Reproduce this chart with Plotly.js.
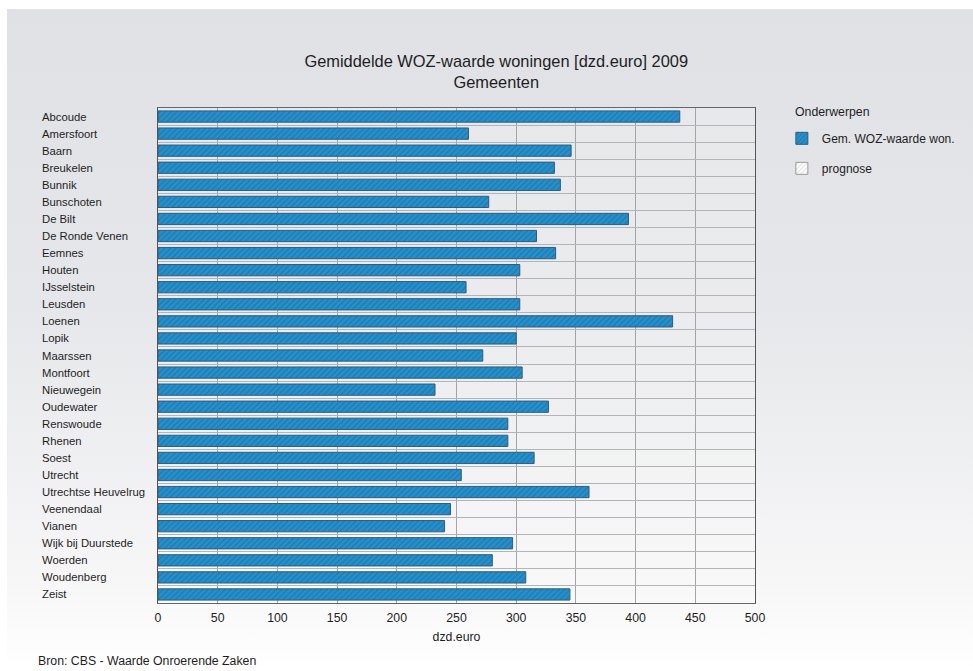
<!DOCTYPE html>
<html>
<head>
<meta charset="utf-8">
<script src="https://cdn.plot.ly/plotly-3.0.1.min.js"></script>
<style>
  html, body { margin: 0; padding: 0; background: #ffffff; }
  #bg { position: absolute; left: 7px; top: 9px; width: 966px; height: 662px;
        background: linear-gradient(to bottom, #e0e1e5 0%, #e6e7ea 45%, #f6f6f7 85%, #ffffff 100%); }
  #chart { position: absolute; left: 0; top: 0; width: 973px; height: 671px; }
</style>
</head>
<body>
<div id="bg"></div>
<div id="chart"></div>
<script>
const categories = ["Abcoude","Amersfoort","Baarn","Breukelen","Bunnik","Bunschoten","De Bilt","De Ronde Venen","Eemnes","Houten","IJsselstein","Leusden","Loenen","Lopik","Maarssen","Montfoort","Nieuwegein","Oudewater","Renswoude","Rhenen","Soest","Utrecht","Utrechtse Heuvelrug","Veenendaal","Vianen","Wijk bij Duurstede","Woerden","Woudenberg","Zeist"];
const wozValues = [437,260,346,332,337,277,394,317,333,303,258,303,431,300,272,305,232,327,293,293,315,254,361,245,240,297,280,308,345];
const prognoseValues = categories.map(() => null);
const xTicks = [0,50,100,150,200,250,300,350,400,450,500];

const FONT = '"Liberation Sans", Arial, sans-serif';
const TXT = '#1e1e1e';

const traces = [
  {
    type: 'bar', orientation: 'h', name: 'Gem. WOZ-waarde won.',
    y: categories, x: wozValues, legendgroup: 'a',
    marker: { color: '#2192cf', line: { color: '#2f5c7c', width: 1 },
              pattern: { shape: '/', fgcolor: '#2277aa', bgcolor: '#2192cf', size: 4, solidity: 0.3 } },
    hoverinfo: 'x+y'
  },
  {
    type: 'bar', orientation: 'h', name: 'prognose',
    y: categories, x: prognoseValues, legendgroup: 'b',
    marker: { color: '#ffffff', line: { color: '#9a9a9a', width: 1 },
              pattern: { shape: '/', fgcolor: '#dcdcdc', bgcolor: '#ffffff', size: 4, solidity: 0.3 } }
  }
];

const annotations = categories.map(c => ({
  xref: 'paper', yref: 'y', x: -0.197, y: c, xanchor: 'left', yanchor: 'middle',
  text: c, showarrow: false, font: { family: FONT, size: 11.3, color: TXT }
}));
annotations.push({
  xref: 'paper', yref: 'paper', x: -0.204, y: -0.118, xanchor: 'left', yanchor: 'middle',
  text: 'Bron: CBS - Waarde Onroerende Zaken', showarrow: false,
  font: { family: FONT, size: 12.3, color: TXT }
});
annotations.push({
  xref: 'paper', yref: 'paper', x: 1.063, y: 0.991, xanchor: 'left', yanchor: 'middle',
  text: 'Onderwerpen', showarrow: false,
  font: { family: FONT, size: 12.3, color: TXT }
});

const layout = {
  width: 973, height: 671,
  margin: { l: 158, r: 218, t: 107.5, b: 67.5, pad: 0, autoexpand: false },
  paper_bgcolor: 'rgba(0,0,0,0)',
  plot_bgcolor: 'rgba(255,255,255,0.2)',
  font: { family: FONT, size: 12, color: TXT },
  title: {
    text: 'Gemiddelde WOZ-waarde woningen [dzd.euro] 2009<br>Gemeenten',
    font: { family: FONT, size: 16.4, color: TXT },
    x: 0.51, xanchor: 'center', y: 0.90, yanchor: 'middle', xref: 'container', yref: 'container'
  },
  bargap: 0.34,
  barmode: 'overlay',
  xaxis: {
    range: [0, 500], tickvals: xTicks, ticktext: xTicks.map(String),
    showgrid: true, gridcolor: '#a4a4a4', gridwidth: 1,
    zeroline: false, showline: true, mirror: true, linecolor: '#666666', linewidth: 1,
    ticks: '', ticklabelstandoff: 3, tickfont: { family: FONT, size: 12.3, color: TXT },
    title: { text: 'dzd.euro', font: { family: FONT, size: 12.3, color: TXT }, standoff: 8 },
    fixedrange: true
  },
  yaxis: {
    type: 'category', autorange: 'reversed', tickson: 'boundaries',
    showgrid: true, gridcolor: '#b4b4b4', gridwidth: 1,
    showticklabels: false, ticks: '',
    showline: true, mirror: true, linecolor: '#555555', linewidth: 1,
    fixedrange: true
  },
  legend: {
    x: 1.045, xanchor: 'left', y: 0.968, yanchor: 'top',
    traceorder: 'grouped', tracegroupgap: 11,
    bgcolor: 'rgba(0,0,0,0)',
    font: { family: FONT, size: 12, color: TXT }
  },
  annotations: annotations,
  showlegend: true
};

Plotly.newPlot('chart', traces, layout, { displayModeBar: false, staticPlot: true });
</script>
</body>
</html>
